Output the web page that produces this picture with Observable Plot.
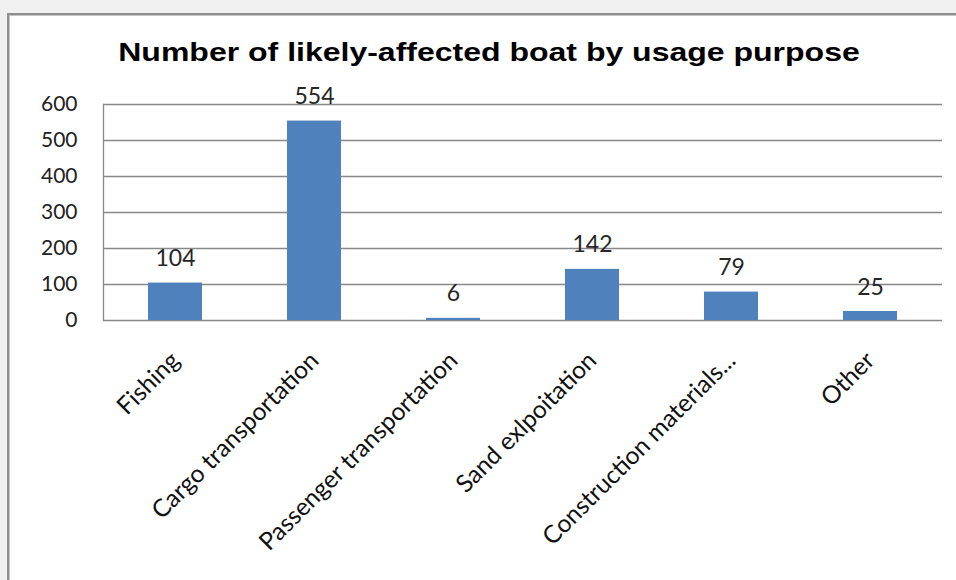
<!DOCTYPE html>
<html>
<head>
<meta charset="utf-8">
<script src="https://cdn.jsdelivr.net/npm/d3@7"></script>
<script src="https://cdn.jsdelivr.net/npm/@observablehq/plot@0.6"></script>
<style>
  html, body { margin: 0; padding: 0; background: #f0f0f0; width: 956px; height: 580px; overflow: hidden; }
  #frame { position: absolute; left: 7px; top: 13px; width: 1000px; height: 1000px; background: #fff;
           border-left: 2px solid #8e8e8e; border-top: 2px solid #8e8e8e; box-shadow: inset 1px 1px 0 #c4c4c4; }
  #title { position: absolute; left: 11px; top: 40px; width: 956px; text-align: center;
           font-family: "Liberation Sans", Arial, sans-serif; font-weight: bold; font-size: 25px; line-height: 25px; color: #000;
           transform: scaleX(1.28); transform-origin: 478px 0; }
  #chart { position: absolute; left: 0; top: 80px; }
</style>
</head>
<body>
<div id="frame"></div>
<div id="title">Number of likely-affected boat by usage purpose</div>
<div id="chart"></div>
<script>
const categories = ["Fishing", "Cargo transportation", "Passenger transportation", "Sand exlpoitation", "Construction materials...", "Other"];
const values = [104, 554, 6, 142, 79, 25];
const yTicks = [0, 100, 200, 300, 400, 500, 600];

const data = categories.map((c, i) => ({category: c, value: values[i]}));
const font = "Lato, 'Open Sans', sans-serif";

const chart = Plot.plot({
  width: 956,
  height: 500,
  marginLeft: 103,
  marginRight: 14,
  marginTop: 24,
  marginBottom: 260,
  style: {background: "transparent", fontFamily: font},
  x: {domain: categories, paddingInner: 0.613, paddingOuter: 0.3065},
  y: {domain: [0, 600]},
  marks: [
    Plot.ruleY(yTicks, {stroke: "#888", strokeWidth: 1.3}),
    Plot.frame({anchor: "left", stroke: "#888", strokeWidth: 1.3}),
    Plot.barY(data, {x: "category", y: "value", fill: "#4f81bd"}),
    Plot.text(data, {x: "category", y: "value", text: d => String(d.value), lineAnchor: "bottom", dy: -17, fontSize: 23, fill: "#262626", fontFamily: font}),
    Plot.axisY({ticks: yTicks, tickSize: 0, tickPadding: 26, fontSize: 21, fill: "#222", label: null, fontFamily: font}),
    Plot.axisX({tickSize: 0, tickRotate: -45, tickPadding: 36, fontSize: 24.5, fill: "#111", label: null, fontFamily: font})
  ]
});
document.getElementById("chart").appendChild(chart);
</script>
</body>
</html>
